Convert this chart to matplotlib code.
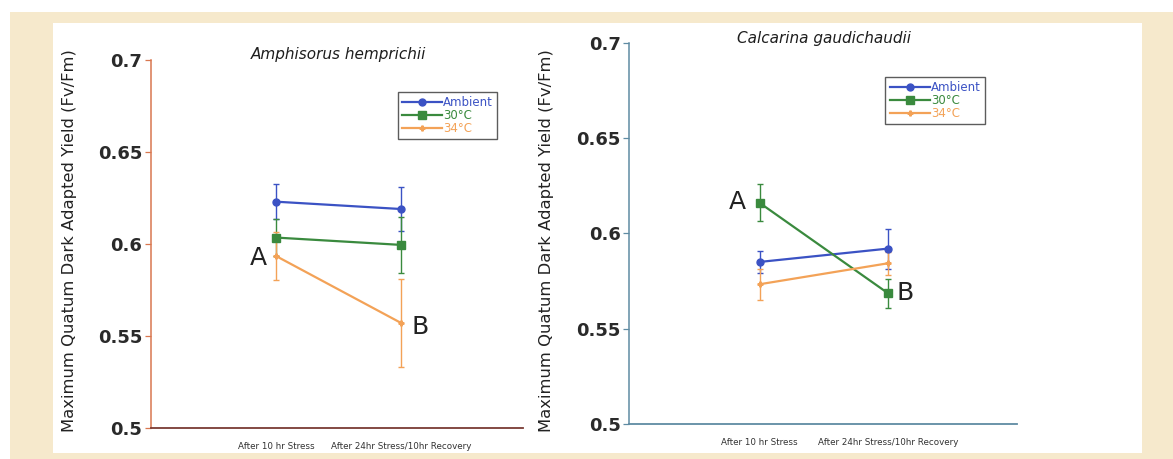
import matplotlib.pyplot as plt
from matplotlib.patches import Rectangle
from matplotlib.lines import Line2D

plt.rcParams['font.family'] = ['DejaVu Sans']

categories = ['After 10 hr Stress', 'After 24hr Stress/10hr Recovery']
series = ['Ambient', '30°C', '34°C']

# Amphisorus hemprichii
amph_mean = {'Ambient': [0.623, 0.619], '30°C': [0.6035, 0.5995], '34°C': [0.5935, 0.557]}
amph_err = {'Ambient': [0.0095, 0.012], '30°C': [0.010, 0.015], '34°C': [0.013, 0.024]}

# Calcarina gaudichaudii
calc_mean = {'Ambient': [0.585, 0.592], '30°C': [0.616, 0.5686], '34°C': [0.5733, 0.5843]}
calc_err = {'Ambient': [0.006, 0.0105], '30°C': [0.0097, 0.0076], '34°C': [0.008, 0.006]}

colors = {'Ambient': '#3b52c4', '30°C': '#3a8a3e', '34°C': '#f3a257'}
markers = {'Ambient': 'o', '30°C': 's', '34°C': 'P'}
msizes = {'Ambient': 5, '30°C': 6, '34°C': 3.5}

fig = plt.figure(figsize=(11.73, 4.59), dpi=100)
fig.patch.set_facecolor('white')
# beige scan frame and white panel
fig.patches.append(Rectangle((10 / 1173, 0), 1 - 10 / 1173, 1 - 12 / 459, transform=fig.transFigure,
                             facecolor='#f6e9cc', edgecolor='none', zorder=-3))
fig.patches.append(Rectangle((53 / 1173, 1 - 453 / 459), (1142 - 53) / 1173, (453 - 23) / 459,
                             transform=fig.transFigure, facecolor='white', edgecolor='none', zorder=-2))

ylabel = 'Maximum Quatum Dark Adapted Yield (Fv/Fm)'


def panel(rect, means, errs, title, title_xy, spine_l, spine_b, xlim, leg_anchor, letters, ylab_x):
    ax = fig.add_axes(rect)
    ax.set_facecolor('none')
    x = [1, 2]
    handles = []
    for s in series:
        ax.errorbar(x, means[s], yerr=errs[s], color=colors[s], marker=markers[s],
                    markersize=msizes[s], linewidth=1.6, elinewidth=1.0, capsize=2.5,
                    capthick=1.0)
        handles.append(Line2D([], [], color=colors[s], marker=markers[s],
                              markersize=msizes[s], linewidth=1.6, label=s))
    ax.set_ylim(0.5, 0.7)
    ax.set_xlim(*xlim)
    ax.set_yticks([0.5, 0.55, 0.6, 0.65, 0.7])
    ax.set_yticklabels(['0.5', '0.55', '0.6', '0.65', '0.7'], fontsize=13, fontweight='bold',
                       color='#2a2a2a')
    ax.set_xticks(x)
    ax.set_xticklabels(categories, fontsize=6.3, color='#333333')
    ax.tick_params(axis='x', length=0, pad=10)
    ax.tick_params(axis='y', length=4, width=0.9, color=spine_l, pad=2)
    for side in ['top', 'right']:
        ax.spines[side].set_visible(False)
    ax.spines['left'].set_color(spine_l)
    ax.spines['bottom'].set_color(spine_b)
    ax.spines['left'].set_linewidth(1.1)
    ax.spines['bottom'].set_linewidth(1.3)
    fig.text(ylab_x, 0.475, ylabel, rotation=90, fontsize=11.8, color='#222222',
             ha='center', va='center')
    fig.text(title_xy[0], title_xy[1], title, fontsize=11, style='italic', color='#1e1e1e',
             ha='center', va='center')
    leg = ax.legend(handles=handles, loc='upper left', bbox_to_anchor=leg_anchor,
                    borderaxespad=0, fontsize=8.5, labelspacing=0.0, handlelength=3.4,
                    handletextpad=0.1, borderpad=0.35, frameon=True, fancybox=False)
    leg.get_frame().set_edgecolor('#333333')
    leg.get_frame().set_linewidth(1.0)
    for t, s in zip(leg.get_texts(), series):
        t.set_color(colors[s])
    for (lx, ly, txt) in letters:
        fig.text(lx, ly, txt, fontsize=18, color='#222222', ha='center', va='center')
    return ax


panel([150.5 / 1173, 1 - 428 / 459, (523 - 150.5) / 1173, 368 / 459],
      amph_mean, amph_err, 'Amphisorus hemprichii', (339 / 1173, 1 - 55 / 459),
      '#d9774f', '#7a3b34', (0.0, 2.97), (0.664, 0.913),
      [(258 / 1173, 1 - 258 / 459, 'A'), (420 / 1173, 1 - 327 / 459, 'B')], 70 / 1173)

panel([629 / 1173, 1 - 424 / 459, (1017 - 629) / 1173, 381.3 / 459],
      calc_mean, calc_err, 'Calcarina gaudichaudii', (824 / 1173, 1 - 39 / 459),
      '#5f8ba3', '#5f8ba3', (-0.017, 3.005), (0.661, 0.910),
      [(737 / 1173, 1 - 202 / 459, 'A'), (905 / 1173, 1 - 293 / 459, 'B')], 547 / 1173)

fig.savefig('out.png', dpi=100)
